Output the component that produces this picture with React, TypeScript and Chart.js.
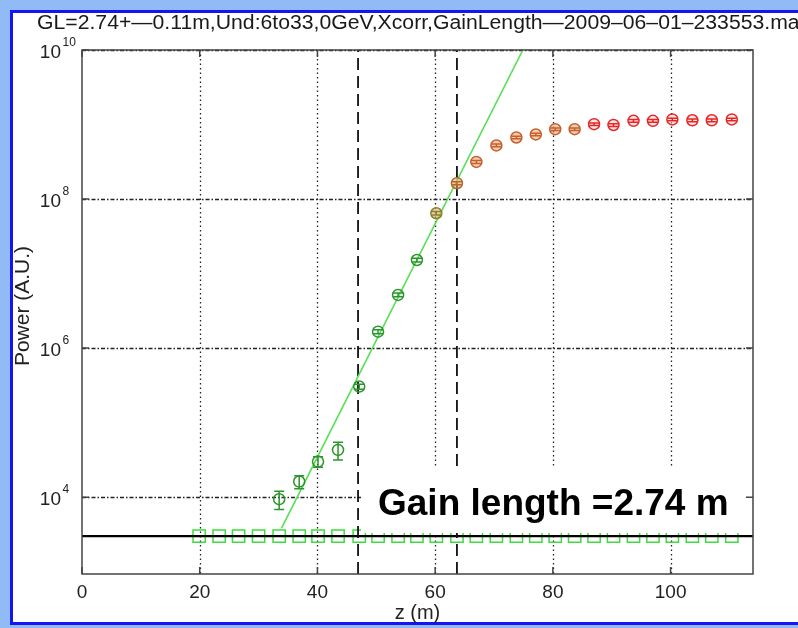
import { useEffect, useRef } from 'react';
import { Chart, registerables } from 'chart.js';

Chart.register(...registerables);

// ---------- text ----------
const titleText = 'GL=2.74+—0.11m,Und:6to33,0GeV,Xcorr,GainLength—2009–06–01–233553.mat';
const xAxisTitle = 'z (m)';
const yAxisTitle = 'Power (A.U.)';
const gainLabel = 'Gain length =2.74 m';

// ---------- measured FEL power along the undulator ----------
const zPos = [33.5, 36.9, 40.1, 43.5, 47.1, 50.3, 53.7, 56.9, 60.2, 63.7, 67.0, 70.4, 73.8, 77.1, 80.4, 83.7, 87.0, 90.3, 93.7, 97.0, 100.3, 103.7, 107.0, 110.4];
const power = [9.4e3, 1.62e4, 3.0e4, 4.3e4, 3.04e5, 1.66e6, 5.17e6, 1.52e7, 6.45e7, 1.63e8, 3.15e8, 5.24e8, 6.7e8, 7.36e8, 8.67e8, 8.67e8, 1.01e9, 9.86e8, 1.12e9, 1.12e9, 1.17e9, 1.14e9, 1.14e9, 1.17e9];
const powerErr = [2.6e3, 3.2e3, 4.8e3, 1.15e4, 2.4e4, 1.0e5, 3.0e5, 9.0e5, 3.5e6, 8.0e6, 1.4e7, 2.2e7, 2.8e7, 3.0e7, 3.4e7, 3.4e7, 4.2e7, 4.2e7, 4.6e7, 4.6e7, 4.8e7, 4.8e7, 4.8e7, 4.8e7];

// ---------- background level at each undulator segment ----------
const segmentZ = [19.9, 23.3, 26.6, 30.0, 33.5, 36.9, 40.1, 43.5, 47.1, 50.3, 53.7, 56.9, 60.2, 63.7, 67.0, 70.4, 73.8, 77.1, 80.4, 83.7, 87.0, 90.3, 93.7, 97.0, 100.3, 103.7, 107.0, 110.4];
const segmentPower = [3.0e3, 3.0e3, 3.0e3, 3.0e3, 3.0e3, 3.0e3, 3.0e3, 3.0e3, 3.0e3, 3.0e3, 3.0e3, 3.0e3, 3.0e3, 3.0e3, 3.0e3, 3.0e3, 3.0e3, 3.0e3, 3.0e3, 3.0e3, 3.0e3, 3.0e3, 3.0e3, 3.0e3, 3.0e3, 3.0e3, 3.0e3, 3.0e3];
const noiseLevel = [3.0e3];

// ---------- exponential fit and its window ----------
const fitZ = [33.9, 74.9];
const fitPower = [3.84e3, 1.0e10];
const fitWindow = [46.9, 63.7];

// ---------- axes ----------
const xTicks = [0, 20, 40, 60, 80, 100];
const yTickExponents = [4, 6, 8, 10];
const xLimits = [0, 114];
const yLimits = [930, 1e10];

// ---------- styling ----------
const FONT = '"Liberation Sans", Arial, Helvetica, sans-serif';
const GREEN = '#2a962a';
const OLIVE = '#86862a';
const AMBER = '#b46a2e';
const BROWN = '#c4602c';
const RED = '#e62626';
const pointEdge = [
  GREEN, GREEN, GREEN, GREEN, GREEN, GREEN, GREEN, GREEN,
  OLIVE, AMBER,
  BROWN, BROWN, BROWN, BROWN, BROWN, BROWN,
  RED, RED, RED, RED, RED, RED, RED, RED,
];
const pointFill = pointEdge.map((c) =>
  c === GREEN ? 'rgba(255,255,255,0)' : c === RED ? 'rgba(255,205,205,0.5)' : 'rgba(236,165,115,0.55)'
);

const decorPlugin = {
  id: 'decor',
  beforeDraw(chart: any) {
    const { ctx, width, height } = chart;
    ctx.save();
    // slide background and frame
    ctx.fillStyle = '#90bbf6';
    ctx.fillRect(0, 0, width, height);
    ctx.fillStyle = '#ffffff';
    ctx.fillRect(11.5, 11.5, width, 612);
    ctx.strokeStyle = '#1414f5';
    ctx.lineWidth = 3;
    ctx.strokeRect(11.5, 11.5, width + 10, 612);

    // title, slightly wide-set
    ctx.fillStyle = '#1a1a1a';
    ctx.font = `20px ${FONT}`;
    ctx.textAlign = 'left';
    ctx.textBaseline = 'alphabetic';
    ctx.save();
    ctx.translate(37, 29);
    ctx.scale(1.06, 1);
    ctx.fillText(titleText, 0, 0);
    ctx.restore();

    // axis titles
    const a = chart.chartArea;
    ctx.fillStyle = '#222';
    ctx.textAlign = 'center';
    ctx.fillText(xAxisTitle, (a.left + a.right) / 2, 619);
    ctx.save();
    ctx.translate(28.5, 306);
    ctx.rotate(-Math.PI / 2);
    ctx.font = `21px ${FONT}`;
    ctx.fillText(yAxisTitle, 0, 0);
    ctx.restore();
    ctx.restore();
  },
  beforeDatasetsDraw(chart: any) {
    const { ctx, chartArea: a, scales } = chart;
    const x = scales.x;
    const y = scales.y;
    ctx.save();
    ctx.strokeStyle = '#222';
    ctx.lineWidth = 1.3;
    ctx.setLineDash([1.5, 3]);
    for (const t of xTicks) {
      if (t === xLimits[0]) continue;
      const px = Math.round(x.getPixelForValue(t)) + 0.5;
      ctx.beginPath();
      ctx.moveTo(px, a.top);
      ctx.lineTo(px, a.bottom);
      ctx.stroke();
    }
    ctx.setLineDash([4, 2, 1.5, 2]);
    for (const e of yTickExponents) {
      const py = Math.round(y.getPixelForValue(Math.pow(10, e))) + 0.5;
      ctx.beginPath();
      ctx.moveTo(a.left, py);
      ctx.lineTo(a.right, py);
      ctx.stroke();
    }
    ctx.restore();
  },
  afterDatasetsDraw(chart: any) {
    const { ctx, chartArea: a, scales } = chart;
    const x = scales.x;
    const y = scales.y;
    ctx.save();

    // error bars with caps
    ctx.lineWidth = 1.5;
    for (let i = 0; i < zPos.length; i++) {
      const px = x.getPixelForValue(zPos[i]);
      const yTop = y.getPixelForValue(power[i] + powerErr[i]);
      const yBot = y.getPixelForValue(power[i] - powerErr[i]);
      ctx.strokeStyle = pointEdge[i];
      ctx.beginPath();
      ctx.moveTo(px, yTop);
      ctx.lineTo(px, yBot);
      ctx.moveTo(px - 5, yTop);
      ctx.lineTo(px + 5, yTop);
      ctx.moveTo(px - 5, yBot);
      ctx.lineTo(px + 5, yBot);
      ctx.stroke();
    }

    // annotation box
    const boxLeft = x.getPixelForValue(fitWindow[0]) + 3;
    ctx.fillStyle = '#ffffff';
    ctx.fillRect(boxLeft, 467, a.right - 1 - boxLeft, 66);
    ctx.fillStyle = '#000000';
    ctx.font = `bold 37px ${FONT}`;
    ctx.textAlign = 'left';
    ctx.textBaseline = 'alphabetic';
    ctx.fillText(gainLabel, 378, 514.5);

    // axes box and inward ticks
    ctx.strokeStyle = '#444';
    ctx.lineWidth = 1.5;
    ctx.strokeRect(a.left, a.top, a.right - a.left, a.bottom - a.top);
    ctx.beginPath();
    for (const t of xTicks) {
      const px = x.getPixelForValue(t);
      ctx.moveTo(px, a.bottom);
      ctx.lineTo(px, a.bottom - 7);
      ctx.moveTo(px, a.top);
      ctx.lineTo(px, a.top + 7);
    }
    for (const e of yTickExponents) {
      const py = y.getPixelForValue(Math.pow(10, e));
      ctx.moveTo(a.left, py);
      ctx.lineTo(a.left + 7, py);
      ctx.moveTo(a.right, py);
      ctx.lineTo(a.right - 7, py);
    }
    ctx.stroke();

    // tick labels
    ctx.fillStyle = '#222';
    ctx.font = `19px ${FONT}`;
    ctx.textAlign = 'center';
    for (const t of xTicks) {
      ctx.fillText(String(t), x.getPixelForValue(t), 598);
    }
    for (const e of yTickExponents) {
      const py = y.getPixelForValue(Math.pow(10, e));
      ctx.font = `19px ${FONT}`;
      ctx.textAlign = 'right';
      ctx.fillText('10', 61, py + 8);
      ctx.font = `12px ${FONT}`;
      ctx.textAlign = 'left';
      ctx.fillText(String(e), 62.5, py - 4);
    }
    ctx.restore();
  },
};

export default function App() {
  const canvasRef = useRef<HTMLCanvasElement | null>(null);

  useEffect(() => {
    document.body.style.margin = '0';
    const canvas = canvasRef.current;
    if (!canvas) return;

    const chart = new Chart(canvas, {
      type: 'scatter',
      data: {
        datasets: [
          {
            label: 'power',
            data: zPos.map((z, i) => ({ x: z, y: power[i] })),
            showLine: false,
            pointStyle: 'circle',
            pointRadius: 5.5,
            pointBorderWidth: 1.5,
            pointBorderColor: pointEdge,
            pointBackgroundColor: pointFill,
          },
          {
            label: 'fit',
            data: fitZ.map((z, i) => ({ x: z, y: fitPower[i] })),
            showLine: true,
            borderColor: '#55e055',
            borderWidth: 1.6,
            pointRadius: 0,
          },
          {
            label: 'window start',
            data: [
              { x: fitWindow[0], y: yLimits[0] },
              { x: fitWindow[0], y: yLimits[1] },
            ],
            showLine: true,
            borderColor: '#111',
            borderWidth: 1.8,
            borderDash: [12, 6],
            pointRadius: 0,
          },
          {
            label: 'window end',
            data: [
              { x: fitWindow[1], y: yLimits[0] },
              { x: fitWindow[1], y: yLimits[1] },
            ],
            showLine: true,
            borderColor: '#111',
            borderWidth: 1.8,
            borderDash: [12, 6],
            pointRadius: 0,
          },
          {
            label: 'noise level',
            data: [
              { x: xLimits[0], y: noiseLevel[0] },
              { x: xLimits[1], y: noiseLevel[0] },
            ],
            showLine: true,
            borderColor: '#000',
            borderWidth: 2.4,
            pointRadius: 0,
          },
          {
            label: 'segments',
            data: segmentZ.map((z, i) => ({ x: z, y: segmentPower[i] })),
            showLine: false,
            pointStyle: 'rect',
            pointRadius: 8.7,
            pointBorderWidth: 1.5,
            pointBorderColor: '#3fdc3f',
            pointBackgroundColor: 'rgba(255,255,255,0)',
          },
        ],
      },
      options: {
        animation: false,
        responsive: false,
        devicePixelRatio: 1,
        layout: { padding: { left: 82, right: 45, top: 50, bottom: 54 } },
        plugins: {
          legend: { display: false },
          tooltip: { enabled: false },
          title: { display: false },
        },
        scales: {
          x: { type: 'linear', display: false, min: xLimits[0], max: xLimits[1] },
          y: { type: 'logarithmic', display: false, min: yLimits[0], max: yLimits[1] },
        },
      },
      plugins: [decorPlugin],
    });

    return () => chart.destroy();
  }, []);

  return (
    <div style={{ width: 798, height: 628 }}>
      <canvas ref={canvasRef} width={798} height={628} style={{ display: 'block' }} />
    </div>
  );
}
